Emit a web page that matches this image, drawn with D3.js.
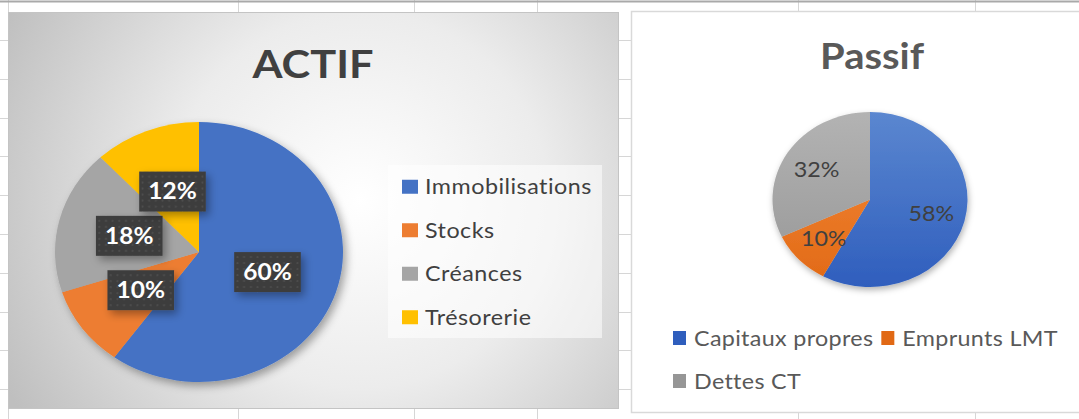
<!DOCTYPE html>
<html>
<head>
<meta charset="utf-8">
<script src="https://cdn.jsdelivr.net/npm/d3@7"></script>
<style>
  body { margin: 0; background: #fff; }
  svg { display: block; font-family: Lato, "Open Sans", sans-serif; }
</style>
</head>
<body>
<div class="chart"></div>
<script>
// data
const actifLabels = ["Immobilisations", "Stocks", "Créances", "Trésorerie"];
const actifValues = [60, 10, 18, 12];
const actifColors = ["#4472C4", "#ED7D31", "#A5A5A5", "#FFC000"];

const passifLabels = ["Capitaux propres", "Emprunts LMT", "Dettes CT"];
const passifValues = [58, 10, 32];
const passifTop = ["#5b87d0", "#f58b3d", "#b3b3b3"];
const passifBottom = ["#2f5ebd", "#e16915", "#969696"];

const W = 1079, H = 419;
const SX = 1.11; // picture is stretched horizontally

const svg = d3.select(".chart").append("svg")
    .attr("width", W)
    .attr("height", H);

const defs = svg.append("defs");

// spreadsheet grid behind the charts
const grid = svg.append("g").attr("stroke", "#d6d6d6").attr("stroke-width", 1);
grid.selectAll(".row")
    .data(d3.range(40, H, 38.8))
    .join("line")
    .attr("x1", 0).attr("x2", W)
    .attr("y1", d => Math.round(d) + 0.5).attr("y2", d => Math.round(d) + 0.5);
grid.selectAll(".col")
    .data([8, 238, 414, 537, 798, 975])
    .join("line")
    .attr("x1", d => d + 0.5).attr("x2", d => d + 0.5)
    .attr("y1", 0).attr("y2", H);
svg.append("line")
    .attr("x1", 0).attr("x2", W).attr("y1", 1.5).attr("y2", 1.5)
    .attr("stroke", "#a9a9a9").attr("stroke-width", 2);

// filters / patterns
const sh = defs.append("filter").attr("id", "shadow")
    .attr("x", "-20%").attr("y", "-20%").attr("width", "150%").attr("height", "150%");
sh.append("feDropShadow").attr("dx", 3).attr("dy", 4).attr("stdDeviation", 4)
    .attr("flood-color", "#000").attr("flood-opacity", 0.35);

const sh2 = defs.append("filter").attr("id", "shadow2")
    .attr("x", "-20%").attr("y", "-20%").attr("width", "150%").attr("height", "150%");
sh2.append("feDropShadow").attr("dx", 1).attr("dy", 3).attr("stdDeviation", 3)
    .attr("flood-color", "#000").attr("flood-opacity", 0.3);

const dots = defs.append("pattern").attr("id", "dots")
    .attr("width", 6).attr("height", 6).attr("patternUnits", "userSpaceOnUse");
dots.append("rect").attr("width", 6).attr("height", 6).attr("fill", "#3d3d3d");
dots.append("circle").attr("cx", 3).attr("cy", 3).attr("r", 1).attr("fill", "#4e4e4e");

const bg = defs.append("radialGradient").attr("id", "bg")
    .attr("gradientUnits", "userSpaceOnUse")
    .attr("cx", 360).attr("cy", 200).attr("r", 400);
bg.append("stop").attr("offset", 0).attr("stop-color", "#ffffff");
bg.append("stop").attr("offset", 0.47).attr("stop-color", "#ececec");
bg.append("stop").attr("offset", 1).attr("stop-color", "#bfbfbf");

// text drawn inside a horizontally stretched group
function sText(parent, x, y, txt) {
    return parent.append("g")
        .attr("transform", `translate(${x},${y}) scale(${SX},1)`)
        .append("text").text(txt);
}

const fmt = d3.format(".0%");

// ---------- ACTIF ----------
const ga = svg.append("g");
ga.append("rect")
    .attr("x", 8.5).attr("y", 12.5).attr("width", 610).attr("height", 396)
    .attr("fill", "url(#bg)").attr("stroke", "#c4c4c4");

sText(ga, 313, 78, "ACTIF")
    .attr("text-anchor", "middle")
    .attr("font-size", 39).attr("font-weight", 700).attr("fill", "#404040");

const aTotal = d3.sum(actifValues);
const pieA = d3.pie().sort(null).value(d => d)(actifValues);
const rA = 130;
const arcA = d3.arc().innerRadius(0).outerRadius(rA);

const pa = ga.append("g").attr("transform", "translate(199,252)");
pa.append("g")
    .attr("transform", `scale(${144 / rA},1)`)
    .attr("filter", "url(#shadow)")
    .selectAll("path")
    .data(pieA)
    .join("path")
    .attr("d", arcA)
    .attr("fill", (d, i) => actifColors[i]);

pieA.forEach((d, i) => {
    const [cx, cy] = arcA.centroid(d);
    const lg = pa.append("g")
        .attr("transform", `translate(${cx * 144 / rA},${cy}) scale(${SX},1)`);
    lg.append("rect")
        .attr("x", -30).attr("y", -20).attr("width", 60).attr("height", 40)
        .attr("fill", "url(#dots)").attr("filter", "url(#shadow)");
    lg.append("text")
        .attr("text-anchor", "middle").attr("dy", "0.36em")
        .attr("font-size", 22).attr("font-weight", 700).attr("fill", "#fff")
        .text(fmt(actifValues[i] / aTotal));
});

// legend
ga.append("rect")
    .attr("x", 388).attr("y", 165).attr("width", 214).attr("height", 173)
    .attr("fill", "#fff").attr("fill-opacity", 0.55);
const yLeg = d3.scaleBand().domain(actifLabels).range([165, 339]);
actifLabels.forEach((name, i) => {
    const cy = yLeg(name) + yLeg.bandwidth() / 2;
    ga.append("rect")
        .attr("x", 402).attr("y", cy - 7).attr("width", 16).attr("height", 14)
        .attr("fill", actifColors[i]);
    sText(ga, 425, cy + 7.5, name)
        .attr("font-size", 21).attr("letter-spacing", 0.45).attr("fill", "#404040");
});

// ---------- Passif ----------
const gp = svg.append("g");
gp.append("rect")
    .attr("x", 631.5).attr("y", 11.5).attr("width", 500).attr("height", 401)
    .attr("fill", "#fff").attr("stroke", "#d9d9d9").attr("stroke-width", 1.5);

sText(gp, 872, 69, "Passif")
    .attr("text-anchor", "middle")
    .attr("font-size", 36).attr("font-weight", 700).attr("fill", "#595959");

passifValues.forEach((v, i) => {
    const lg = defs.append("linearGradient").attr("id", "pg" + i)
        .attr("gradientUnits", "userSpaceOnUse")
        .attr("x1", 0).attr("y1", -88).attr("x2", 0).attr("y2", 88);
    lg.append("stop").attr("offset", 0).attr("stop-color", passifTop[i]);
    lg.append("stop").attr("offset", 1).attr("stop-color", passifBottom[i]);
});

const pTotal = d3.sum(passifValues);
const pieP = d3.pie().sort(null).value(d => d)(passifValues);
const rP = 87.5;
const arcP = d3.arc().innerRadius(0).outerRadius(rP);
const arcPL = d3.arc().innerRadius(rP * 0.3).outerRadius(rP);

const pp = gp.append("g").attr("transform", "translate(870,199.5)");
pp.append("g")
    .attr("transform", `scale(${97.5 / rP},1)`)
    .attr("filter", "url(#shadow2)")
    .selectAll("path")
    .data(pieP)
    .join("path")
    .attr("d", arcP)
    .attr("fill", (d, i) => `url(#pg${i})`);

pieP.forEach((d, i) => {
    const [cx, cy] = arcPL.centroid(d);
    sText(pp, cx * 97.5 / rP, cy, fmt(passifValues[i] / pTotal))
        .attr("text-anchor", "middle").attr("dy", "0.36em")
        .attr("font-size", 21).attr("fill", "#404040");
});

// legend, two rows
const rowsP = [[0, 1], [2]];
const rowY = [338, 381];
rowsP.forEach((row, r) => {
    let x = 673;
    row.forEach(i => {
        gp.append("rect")
            .attr("x", x).attr("y", rowY[r] - 7).attr("width", 13).attr("height", 14)
            .attr("fill", passifBottom[i]);
        const t = sText(gp, x + 21, rowY[r] + 7.5, passifLabels[i])
            .attr("font-size", 21).attr("letter-spacing", 0.3).attr("fill", "#595959");
        x += 21 + t.node().getComputedTextLength() * SX + 8;
    });
});
</script>
</body>
</html>
